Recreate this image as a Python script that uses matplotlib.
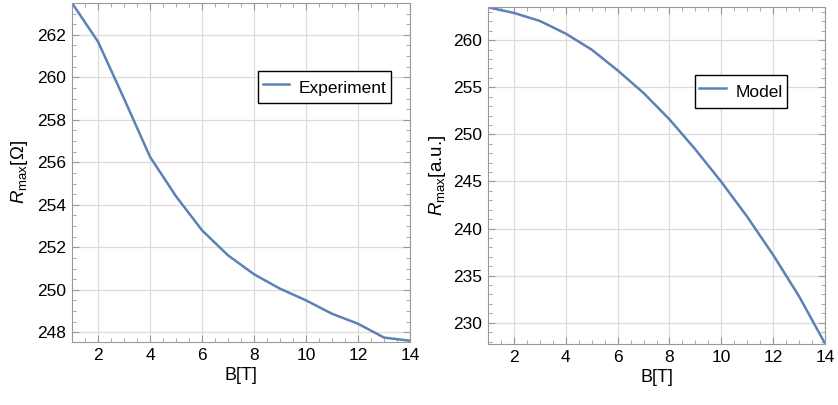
import numpy as np
import matplotlib
matplotlib.use('Agg')
import matplotlib.pyplot as plt
from matplotlib.ticker import MultipleLocator

plt.rcParams['font.family'] = ['Liberation Sans', 'DejaVu Sans']
plt.rcParams['mathtext.fontset'] = 'custom'
plt.rcParams['mathtext.rm'] = 'Liberation Sans'
plt.rcParams['mathtext.it'] = 'Liberation Sans:italic'

B = [1, 2, 3, 4, 5, 6, 7, 8, 9, 10, 11, 12, 13, 14]
r_experiment = [263.5, 261.68, 259.0, 256.26, 254.4, 252.8, 251.62, 250.73,
                250.05, 249.5, 248.87, 248.4, 247.75, 247.6]
r_model = [263.5, 262.9, 262.05, 260.7, 259.0, 256.8, 254.4, 251.6,
           248.4, 244.96, 241.25, 237.2, 232.8, 227.8]

line_color = '#5E81B5'
frame_color = '#999999'

fig = plt.figure(figsize=(8.38, 4.05), dpi=100)
ax1 = fig.add_axes([72/838, 1-342/405, 338/838, 339/405])
ax2 = fig.add_axes([488/838, 1-344/405, 337/838, 337/405])


def style(ax, ymajor, yminor):
    ax.xaxis.set_major_locator(MultipleLocator(2))
    ax.xaxis.set_minor_locator(MultipleLocator(0.5))
    ax.yaxis.set_major_locator(MultipleLocator(ymajor))
    ax.yaxis.set_minor_locator(MultipleLocator(yminor))
    ax.grid(True, which='major', color='#dcdcdc', linewidth=0.9)
    ax.set_axisbelow(True)
    ax.tick_params(which='both', direction='in', top=True, right=True,
                   color=frame_color, labelsize=12.5, pad=4.5)
    ax.tick_params(which='major', length=5)
    ax.tick_params(which='minor', length=3)
    for s in ax.spines.values():
        s.set_color(frame_color)
    ax.set_xlabel('B[T]', fontsize=13, labelpad=3)


def add_legend(ax, x, y):
    leg = ax.legend(loc='upper left', bbox_to_anchor=(x, y), fontsize=12.5,
                    fancybox=False, edgecolor='black', framealpha=1,
                    handlelength=1.55, handleheight=1.75, handletextpad=0.52,
                    borderpad=0.25, borderaxespad=0)
    leg.get_frame().set_linewidth(1.0)


ax1.plot(B, r_experiment, color=line_color, lw=1.8, label='Experiment')
ax1.set_xlim(1, 14)
ax1.set_ylim(247.54, 263.5)
style(ax1, 2, 0.5)
ax1.set_ylabel(r'$R_{\mathrm{max}}$[$\Omega$]', fontsize=13.5, labelpad=5)
add_legend(ax1, 0.551, 0.800)

ax2.plot(B, r_model, color=line_color, lw=1.8, label='Model')
ax2.set_xlim(1, 14)
ax2.set_ylim(227.74, 263.53)
style(ax2, 5, 1)
ax2.set_ylabel(r'$R_{\mathrm{max}}$[a.u.]', fontsize=13.5, labelpad=3)
add_legend(ax2, 0.614, 0.798)

fig.savefig('out.png', dpi=100)
